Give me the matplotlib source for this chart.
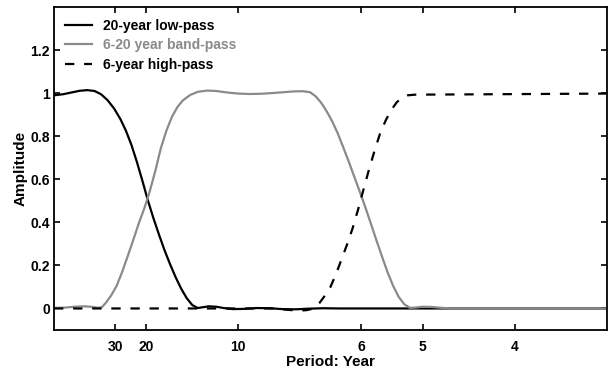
import matplotlib
matplotlib.use("Agg")
import matplotlib.pyplot as plt

plt.rcParams['font.family'] = ['Liberation Sans', 'DejaVu Sans']
plt.rcParams['font.weight'] = 'bold'

# Frequency (1/year) and amplitude
low_f = [0.000, 0.005, 0.010, 0.014, 0.018, 0.022, 0.0255, 0.029, 0.0325, 0.036,
         0.039, 0.042, 0.045, 0.048, 0.051, 0.054, 0.057, 0.060, 0.063, 0.066,
         0.069, 0.072, 0.075, 0.078, 0.081, 0.084, 0.088, 0.092, 0.097, 0.103,
         0.110, 0.117, 0.124, 0.131, 0.138, 0.146, 0.155, 0.300]
low_a = [0.990, 0.995, 1.004, 1.011, 1.014, 1.010, 0.995, 0.968, 0.930, 0.880,
         0.826, 0.760, 0.680, 0.592, 0.500, 0.418, 0.342, 0.270, 0.205, 0.145,
         0.092, 0.048, 0.016, 0.002, 0.006, 0.010, 0.008, 0.002, -0.003, -0.002,
         0.002, 0.001, -0.003, -0.004, -0.001, 0.001, 0.000, 0.000]

band_f = [0.000, 0.006, 0.011, 0.016, 0.020, 0.024, 0.026, 0.028, 0.031, 0.034,
          0.037, 0.040, 0.043, 0.046, 0.049, 0.052, 0.055, 0.058, 0.061, 0.064,
          0.067, 0.070, 0.074, 0.078, 0.083, 0.088, 0.094, 0.100, 0.106, 0.112,
          0.118, 0.124, 0.130, 0.135, 0.139, 0.142, 0.145, 0.148, 0.151, 0.154,
          0.157, 0.160, 0.163, 0.166, 0.169, 0.172, 0.175, 0.178, 0.181, 0.184,
          0.187, 0.190, 0.193, 0.196, 0.200, 0.205, 0.210, 0.216, 0.300]
band_a = [0.003, 0.004, 0.008, 0.010, 0.008, 0.003, 0.006, 0.025, 0.060, 0.105,
          0.170, 0.243, 0.318, 0.395, 0.465, 0.545, 0.640, 0.745, 0.826, 0.890,
          0.936, 0.967, 0.992, 1.006, 1.012, 1.010, 1.003, 0.998, 0.996, 0.997,
          1.000, 1.004, 1.008, 1.009, 1.004, 0.985, 0.955, 0.915, 0.868, 0.812,
          0.747, 0.680, 0.610, 0.540, 0.468, 0.392, 0.315, 0.240, 0.168, 0.105,
          0.054, 0.020, 0.003, 0.004, 0.008, 0.007, 0.003, 0.000, 0.000]

high_f = [0.000, 0.120, 0.125, 0.132, 0.137, 0.140, 0.142, 0.144, 0.147, 0.150,
          0.153, 0.156, 0.159, 0.162, 0.165, 0.168, 0.171, 0.174, 0.177, 0.180,
          0.183, 0.186, 0.189, 0.192, 0.196, 0.220, 0.260, 0.300]
high_a = [0.000, 0.000, -0.005, -0.010, -0.008, -0.002, 0.006, 0.025, 0.060, 0.100,
          0.160, 0.228, 0.297, 0.372, 0.460, 0.555, 0.648, 0.735, 0.815, 0.874,
          0.922, 0.958, 0.980, 0.990, 0.993, 0.994, 0.996, 0.998]

series_labels = ['20-year low-pass', '6-20 year band-pass', '6-year high-pass']
period_ticks = [30, 20, 10, 6, 5, 4]
y_ticks = [0, 0.2, 0.4, 0.6, 0.8, 1, 1.2]
y_tick_labels = ['0', '0.2', '0.4', '0.6', '0.8', '1', '1.2']

fig = plt.figure(figsize=(6.10, 3.73), dpi=100)
ax = fig.add_axes([0.0885, 0.1153, 0.9065, 0.8659])

ax.plot(low_f, low_a, color='black', lw=1.6, label=series_labels[0])
ax.plot(band_f, band_a, color='#8a8a8a', lw=1.6, label=series_labels[1])
ax.plot(high_f, high_a, color='black', lw=1.6, linestyle=(0, (4.2, 4.4)),
        label=series_labels[2])

ax.set_xlim(0, 0.3)
ax.set_ylim(-0.1, 1.4)
ax.set_xticks([1.0 / p for p in period_ticks])
ax.set_xticklabels([str(p) for p in period_ticks])
ax.set_yticks(y_ticks)
ax.set_yticklabels(y_tick_labels)
ax.tick_params(direction='in', top=True, right=True, length=4, width=1.2,
               labelsize=10)
ax.tick_params(axis='y', pad=3)
ax.tick_params(axis='x', pad=7)
for lab in ax.get_xticklabels() + ax.get_yticklabels():
    lab.set_fontweight('bold')
for s in ax.spines.values():
    s.set_linewidth(1.3)

ax.set_xlabel('Period: Year', fontsize=11, fontweight='bold', labelpad=1)
ax.set_ylabel('Amplitude', fontsize=11, fontweight='bold', labelpad=2)

leg = ax.legend(loc='upper left', frameon=False, fontsize=10,
                handlelength=1.95, handletextpad=0.75, labelspacing=0.38,
                borderaxespad=0.0, bbox_to_anchor=(0.0105, 0.98))
for txt, line in zip(leg.get_texts(), leg.get_lines()):
    txt.set_color(line.get_color())
    txt.set_fontweight('bold')

fig.savefig('out.png', dpi=100)
